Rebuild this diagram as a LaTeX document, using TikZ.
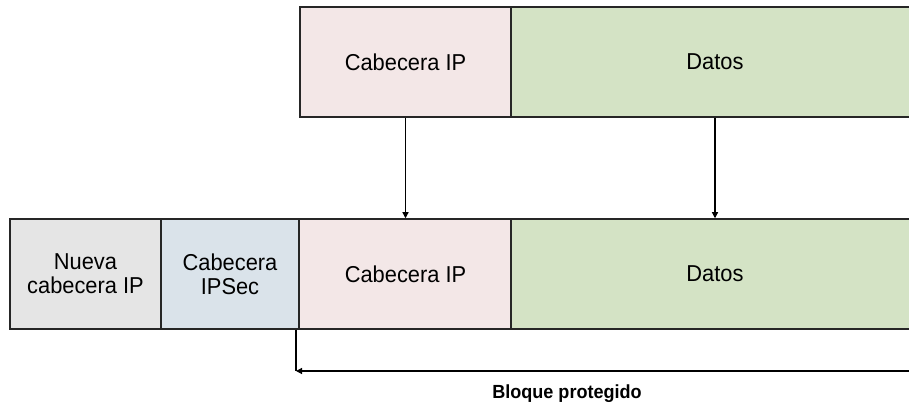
\documentclass[tikz,border=0pt]{standalone}
\usepackage{fontspec}
\setmainfont{Liberation Sans}[FakeStretch=0.95]
\usepackage{tikz}
\usetikzlibrary{arrows.meta}
\colorlet{nuevacol}{black!10}
\definecolor{ipseccol}{HTML}{DAE3EA}
\definecolor{cabcol}{HTML}{F3E7E7}
\definecolor{datoscol}{HTML}{D4E3C5}
\tikzset{
  campo/.style={draw=black!85, line width=1.5pt, minimum height=110pt, inner sep=0pt, align=center,
    font=\fontsize{23}{24}\selectfont},
  flecha/.style={line width=1.2pt, -{Triangle[width=6pt,length=6pt]}}
}

\begin{document}
\begin{tikzpicture}[x=1pt, y=1pt]
  \useasboundingbox (0,0) rectangle (909,403);
  % paquete original
  \node[campo, fill=cabcol, minimum width=211pt] (cab) at (405.5,341) {Cabecera IP};
  \node[campo, fill=datoscol, minimum width=430pt] (datos) at (726,341) {};
  \node[font=\fontsize{23}{24}\selectfont] (datost) at (715,341) {Datos};
  % paquete con IPSec
  \node[campo, fill=nuevacol, minimum width=151pt] (nueva) at (85.5,129) {Nueva\\cabecera IP};
  \node[campo, fill=ipseccol, minimum width=138pt] (ipsec) at (230,129) {Cabecera\\IPSec};
  \node[campo, fill=cabcol, minimum width=212pt] (cab2) at (405.5,129) {Cabecera IP};
  \node[campo, fill=datoscol, minimum width=430pt] (datos2) at (726,129) {};
  \node[font=\fontsize{23}{24}\selectfont] (datos2t) at (715,129) {Datos};
  \draw[flecha] (cab.south) -- (cab2.north);
  \draw[flecha] (datos.south -| datost) -- (datos2.north -| datos2t);
  % bloque protegido
  \coordinate (esq) at (296,32);
  \coordinate (fin) at (930,32);
  \draw[line width=1.2pt] (esq |- cab2.south) -- (esq);
  \draw[flecha] (fin) -- (esq);
  \node[font=\bfseries\fontsize{19}{21}\selectfont] (bloque) at (567,9) {Bloque protegido};
\end{tikzpicture}
\end{document}
